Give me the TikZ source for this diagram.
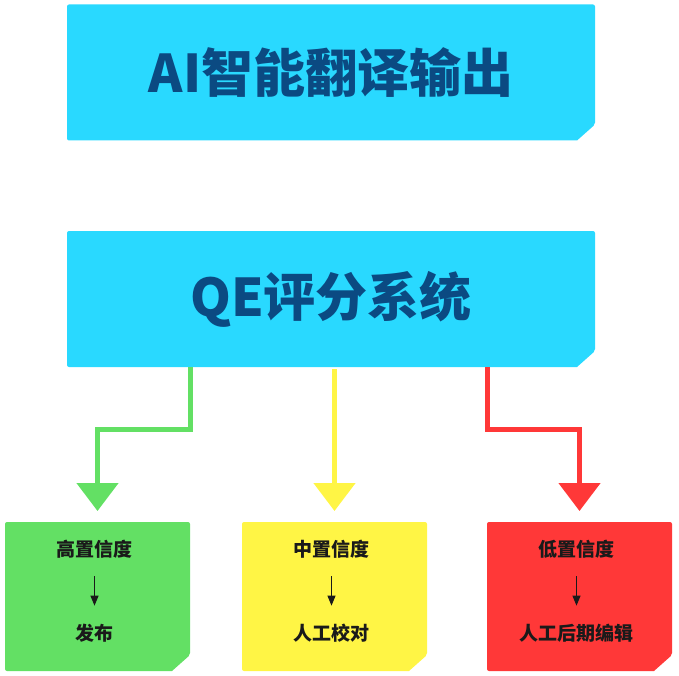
\documentclass[tikz,border=0pt]{standalone}
\usepackage{fontspec}
\setmainfont{Noto Sans CJK SC}
\newfontfamily\heavy{Noto Sans CJK SC Black}
\usetikzlibrary{arrows.meta,backgrounds,calc}
\definecolor{cyanbox}{RGB}{41,217,255}
\definecolor{titleblue}{RGB}{11,74,130}
\definecolor{grn}{RGB}{99,224,100}
\definecolor{ylw}{RGB}{255,245,69}
\definecolor{rd}{RGB}{255,56,56}
\definecolor{ink}{RGB}{26,26,26}
\tikzset{
  bigbox/.style={inner sep=0pt,outer sep=0pt,minimum width=528pt,minimum height=136pt,
    text=titleblue,font=\fontsize{52}{52}\selectfont\heavy},
  smallbox/.style={inner sep=0pt,outer sep=0pt,minimum width=185pt,minimum height=149pt},
  lbl/.style={inner sep=0pt,text=ink,font=\fontsize{19}{19}\selectfont\bfseries},
  flow/.style={line width=5pt,draw=#1,-{Triangle[width=41pt,length=28pt,fill=#1]}},
  step arrow/.style={ink,line width=1pt,-{Triangle[width=8pt,length=10pt]},shorten <=18pt,shorten >=18pt}
}
\newcommand{\chamfill}[2]{%
  \fill[#2,rounded corners=2pt] (#1.north west) -- (#1.north east) -- ([yshift=16pt]#1.south east)
    [sharp corners] -- ([xshift=-18pt]#1.south east) [rounded corners=2pt] -- (#1.south west) -- cycle;}
\begin{document}
\begin{tikzpicture}[x=1pt,y=-1pt]
\useasboundingbox (0,0) rectangle (679,676);
\node[bigbox] (top) at (331,72.5) {AI智能翻译输出};
\node[bigbox] (qe) at (331,299) {QE评分系统};
\foreach \n/\x/\c/\a/\b in {hi/97.5/grn/高置信度/发布,md/334.5/ylw/中置信度/人工校对,lo/579.5/rd/低置信度/人工后期编辑}{
  \node[smallbox] (\n box) at (\x,596.5) {};
  \node[lbl] (\n) at ([xshift=-3pt,yshift=-27pt]\n box.north) {\a};
  \node[lbl] (\n out) at ([xshift=-3pt,yshift=38pt]\n box.south) {\b};
  \draw[step arrow] (\n) -- (\n out);
  \begin{scope}[on background layer]
    \chamfill{\n box}{\c}
  \end{scope}
}
\begin{scope}[on background layer]
  \chamfill{top}{cyanbox}
  \chamfill{qe}{cyanbox}
\end{scope}
\draw[flow=grn] (qe.south -| hibox.east) -- ++(0,62) -| ([yshift=11pt]hibox.north);
\draw[flow=ylw] ([yshift=-2pt]qe.south -| mdbox.north) -- ([yshift=11pt]mdbox.north);
\draw[flow=rd] (qe.south -| lobox.west) -- ++(0,62) -| ([yshift=11pt]lobox.north);
\end{tikzpicture}
\end{document}
